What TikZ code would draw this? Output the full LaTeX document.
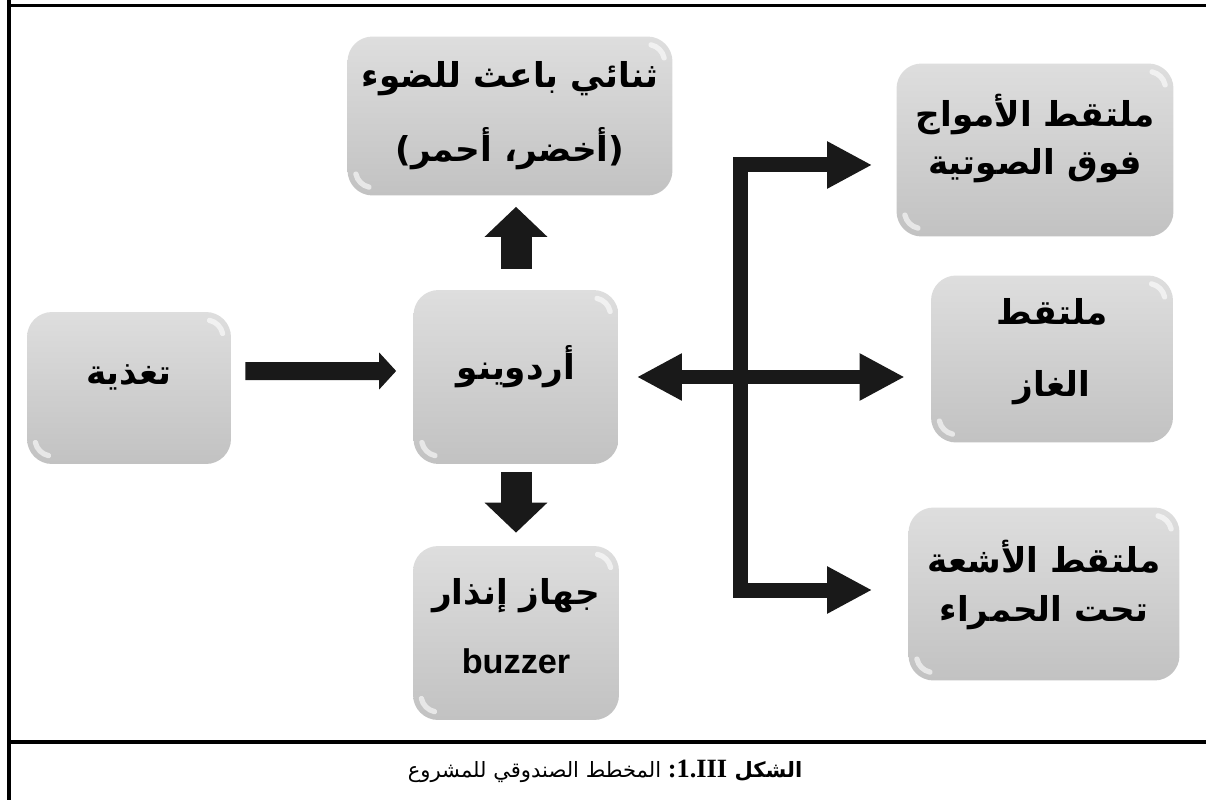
\documentclass[tikz,border=0pt]{standalone}
\usepackage{fontspec}
\setmainfont{Liberation Serif}
\newfontfamily\arabicfont[Script=Arabic]{DejaVu Sans}
\newfontfamily\latinfont{Liberation Sans}
\TeXXeTstate=1
\usetikzlibrary{arrows.meta,positioning,calc}

\begin{document}
\begin{tikzpicture}[x=0.02cm, y=-0.02cm,
  block/.style={rounded corners=0.5cm, top color=black!13, bottom color=black!24, align=center, inner sep=0pt,
    font=\arabicfont\bfseries\fontsize{19.5}{23}\selectfont,
    path picture={
      \draw[white, opacity=.6, line width=3pt, line cap=round]
        ($(path picture bounding box.north east)+(-0.5cm,-0.5cm)+(78:0.34cm)$) arc[start angle=78, end angle=12, radius=0.34cm]
        ($(path picture bounding box.south west)+(0.5cm,0.5cm)+(258:0.34cm)$) arc[start angle=258, end angle=192, radius=0.34cm];
    }},
  lift/.style={text depth=#1},
  feedarrow/.style={black!90, line width=0.36cm, -{Triangle[length=0.34cm, width=0.72cm]}},
  bigarrow/.style={black!90, line width=0.62cm, -{Triangle[length=0.6cm, width=1.22cm]}},
  busarrow/.style={black!90, line width=0.3cm, {Triangle[length=0.9cm, width=0.88cm]}-{Triangle[length=0.9cm, width=0.88cm]}},
  branch/.style={black!90, line width=0.3cm, -{Triangle[length=0.9cm, width=0.88cm]}}]
\useasboundingbox (0,0) rectangle (1206,800);

% frame and caption rule
\draw[line width=0.08cm] (9,0) -- (9,800);
\draw[line width=0.06cm] (9,5.5) -- (1206,5.5);
\draw[line width=0.08cm] (9,742) -- (1206,742);

% blocks
\node[block, lift=15pt, minimum width=4.08cm, minimum height=3.04cm] (feed) at (129,388) {\beginR تغذية\endR};
\node[block, lift=16pt, minimum width=4.1cm, minimum height=3.48cm] (arduino) at (516,377) {\beginR أردوينو\endR};
\node[block, minimum width=6.5cm, minimum height=3.18cm] (led) at (510,116) {\beginR ثنائي باعث للضوء\endR\\[17pt]\beginR (أخضر، أحمر)\endR};
\node[block, lift=8pt, minimum width=4.12cm, minimum height=3.48cm] (buzzer) at (516,633) {\beginR جهاز إنذار\endR\\[16pt]{\latinfont\bfseries buzzer}};
\node[block, lift=18pt, minimum width=5.54cm, minimum height=3.46cm] (ultra) at (1035,150) {\beginR ملتقط الأمواج\endR\\[4pt]\beginR فوق الصوتية\endR};
\node[block, lift=13pt, minimum width=4.84cm, minimum height=3.34cm] (gas) at (1052,359) {\beginR ملتقط\endR\\[18pt]\beginR الغاز\endR};
\node[block, lift=15pt, minimum width=5.42cm, minimum height=3.46cm] (ir) at (1044,594) {\beginR ملتقط الأشعة\endR\\[5pt]\beginR تحت الحمراء\endR};

% arrows
\draw[feedarrow] ([xshift=0.28cm,yshift=0.34cm]feed.east) -- ([xshift=-0.34cm,yshift=0.12cm]arduino.west);
\draw[bigarrow, shorten <=0.42cm, shorten >=0.22cm] (arduino.north) -- (arduino.north |- led.south);
\draw[bigarrow, shorten <=0.16cm, shorten >=0.26cm] (arduino.south) -- (arduino.south |- buzzer.north);
\draw[busarrow, shorten <=0.36cm, shorten >=0.52cm] (arduino.east) -- (arduino.east -| gas.west);
\coordinate (fork) at (740,377);
\draw[branch] (fork) |- ([xshift=-0.48cm,yshift=-0.3cm]ultra.west);
\draw[branch] (fork) |- ([xshift=-0.72cm,yshift=0.08cm]ir.west);

\node[font=\arabicfont\fontsize{12}{15}\selectfont] (caption) at (605,771)
  {\beginR\textbf{الشكل \beginL{\rmfamily\fontsize{15}{18}\selectfont 1.III}\endL{\rmfamily\fontsize{15}{18}\selectfont :}} المخطط الصندوقي للمشروع\endR};
\end{tikzpicture}
\end{document}
